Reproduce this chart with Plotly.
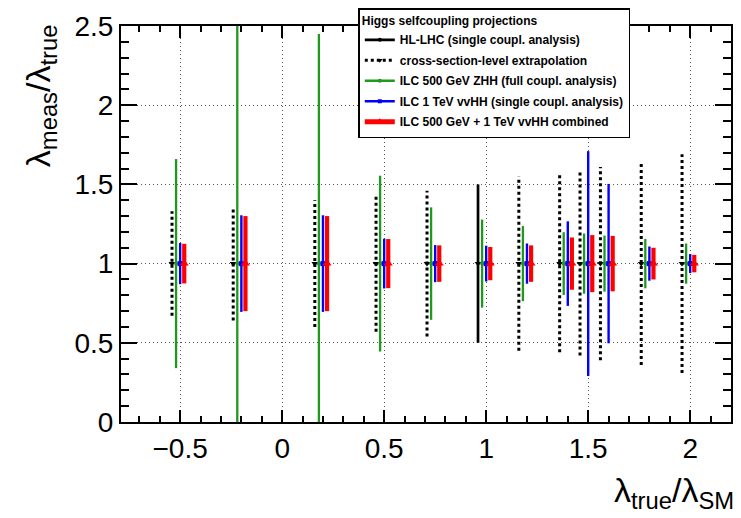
import plotly.graph_objects as go

# lambda_true / lambda_SM scan points
lam_all = [-0.5, -0.2, 0.2, 0.5, 0.75, 1.0, 1.2, 1.4, 1.5, 1.6, 1.8, 2.0]
lam_xsec = [-0.5, -0.2, 0.2, 0.5, 0.75, 1.2, 1.4, 1.5, 1.6, 1.8, 2.0]
lam_hllhc = [1.0]

# relative uncertainty on lambda_meas / lambda_true (central value = 1)
err_hllhc = [0.50]
err_xsec = [0.33, 0.36, 0.40, 0.43, 0.46, 0.55, 0.56, 0.58, 0.61, 0.64, 0.69]
err_zhh = [0.66, 1.60, 1.45, 0.555, 0.355, 0.278, 0.237, 0.198, 0.19, 0.177, 0.156, 0.127]
err_vvhh = [0.13, 0.305, 0.305, 0.157, 0.117, 0.113, 0.127, 0.267, 0.71, 0.503, 0.108, 0.06]
err_comb = [0.125, 0.30, 0.30, 0.155, 0.115, 0.105, 0.115, 0.165, 0.18, 0.175, 0.10, 0.055]

# horizontal shifts so the series at one scan point do not overlap
shift_lhc = -0.04
shift_zhh = -0.02
shift_vvhh = 0.0
shift_comb = 0.02

FONT = "Liberation Sans, Arial, Helvetica, sans-serif"
GREEN = "#1f9a1f"
BLUE = "#0000ff"
RED = "#ff0000"


def shifted(xs, dx):
    return [x + dx for x in xs]


def segments(xs, errs, dx):
    """Vertical segments 1-err .. 1+err, separated by gaps."""
    sx, sy = [], []
    for x, e in zip(xs, errs):
        sx += [x + dx, x + dx, None]
        sy += [1 - e, 1 + e, None]
    return sx, sy


fig = go.Figure()

# cross-section-level extrapolation: dotted bars
xs, ys = segments(lam_xsec, err_xsec, shift_lhc)
fig.add_trace(go.Scatter(x=xs, y=ys, mode="lines", showlegend=False,
                         line=dict(color="black", width=3, dash="dot")))
fig.add_trace(go.Scatter(x=shifted(lam_xsec, shift_lhc), y=[1] * len(lam_xsec),
                         mode="markers", showlegend=False,
                         marker=dict(symbol="triangle-down", size=6, color="black")))

# HL-LHC single coupling analysis
fig.add_trace(go.Scatter(x=shifted(lam_hllhc, shift_lhc), y=[1] * len(lam_hllhc),
                         mode="markers", showlegend=False,
                         error_y=dict(type="data", array=err_hllhc, color="black",
                                      thickness=2.7, width=0),
                         marker=dict(symbol="triangle-down", size=6, color="black")))

# ILC 500 GeV ZHH
fig.add_trace(go.Scatter(x=shifted(lam_all, shift_zhh), y=[1] * len(lam_all),
                         mode="markers", showlegend=False,
                         error_y=dict(type="data", array=err_zhh, color=GREEN,
                                      thickness=2.3, width=0),
                         marker=dict(symbol="circle", size=4, color=GREEN)))

# ILC 1 TeV vvHH
fig.add_trace(go.Scatter(x=shifted(lam_all, shift_vvhh), y=[1] * len(lam_all),
                         mode="markers", showlegend=False,
                         error_y=dict(type="data", array=err_vvhh, color=BLUE,
                                      thickness=2.4, width=0),
                         marker=dict(symbol="square", size=5, color=BLUE)))

# combined
fig.add_trace(go.Scatter(x=shifted(lam_all, shift_comb), y=[1] * len(lam_all),
                         mode="markers", showlegend=False,
                         error_y=dict(type="data", array=err_comb, color=RED,
                                      thickness=4.2, width=0),
                         marker=dict(symbol="triangle-up", size=8, color=RED)))

# legend entries
legend_items = [
    ("HL-LHC (single coupl. analysis)", "black", 2.7, "solid", "circle", 4),
    ("cross-section-level extrapolation", "black", 3, "dot", "triangle-down", 5),
    ("ILC 500 GeV ZHH (full coupl. analysis)", GREEN, 2.5, "solid", "circle", 4),
    ("ILC 1 TeV vvHH (single coupl. analysis)", BLUE, 2.5, "solid", "square", 4),
    ("ILC 500 GeV + 1 TeV vvHH combined", RED, 5, "solid", "triangle-up", 7),
]
for i, (name, col, lw, dash, sym, ms) in enumerate(legend_items):
    fig.add_trace(go.Scatter(x=[None], y=[None], mode="lines+markers", name=name,
                             legendgroup=f"g{i}",
                             line=dict(color=col, width=lw, dash=dash),
                             marker=dict(symbol=sym, size=ms, color=col)))

axis_common = dict(
    showline=True, linewidth=2, linecolor="black", mirror="allticks",
    ticks="inside", tickwidth=1.5, tickcolor="black",
    showgrid=True, gridcolor="#555555", gridwidth=1, griddash="1px,3px",
    zeroline=False,
    tickfont=dict(family=FONT, size=28, color="black"),
)

fig.update_xaxes(range=[-0.79, 2.2], tick0=0, dtick=0.5, ticklen=12,
                 minor=dict(dtick=0.1, ticks="inside", ticklen=6, tickwidth=1.5,
                            tickcolor="black", showgrid=False),
                 **axis_common)
fig.update_yaxes(range=[0, 2.5], tick0=0, dtick=0.5, ticklen=16,
                 minor=dict(dtick=0.1, ticks="inside", ticklen=8, tickwidth=1.5,
                            tickcolor="black", showgrid=False),
                 **axis_common)

fig.update_layout(
    width=741, height=518,
    margin=dict(l=121, r=8, t=16, b=96),
    paper_bgcolor="white", plot_bgcolor="white",
    font=dict(family=FONT, color="black"),
    legend=dict(
        x=0.389, y=1.045, xanchor="left", yanchor="top",
        bgcolor="white", bordercolor="black", borderwidth=1.5,
        font=dict(family=FONT, size=12, color="black", weight="bold"),
        title=dict(text="Higgs selfcoupling projections",
                   font=dict(family=FONT, size=12, color="black", weight="bold")),
        tracegroupgap=1.5, itemwidth=30,
    ),
    annotations=[
        dict(text="λ<sub>meas</sub>/λ<sub>true</sub>", textangle=-90,
             xref="paper", yref="paper", x=-0.132, y=0.824,
             xanchor="center", yanchor="middle", showarrow=False,
             font=dict(family=FONT, size=34, color="black")),
        dict(text="λ<sub>true</sub>/λ<sub>SM</sub>",
             xref="paper", yref="paper", x=1.008, y=-0.118,
             xanchor="right", yanchor="top", showarrow=False,
             font=dict(family=FONT, size=34, color="black")),
    ],
)

fig.write_html("out.html")
